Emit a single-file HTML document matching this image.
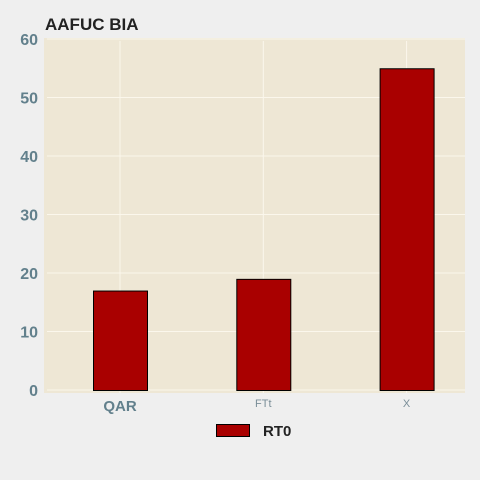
<!DOCTYPE html>
<html><head><meta charset="utf-8"><style>
html,body{margin:0;padding:0;background:#efefef;}
svg{display:block;font-family:"Liberation Sans",sans-serif;}
</style></head><body>
<svg id="chart" width="480" height="480">
<rect x="0" y="0" width="480" height="480" fill="#efefef"/>
<text x="45" y="30" font-size="17" font-weight="bold" fill="#222">AAFUC BIA</text>
<rect x="44" y="38" width="421" height="355" fill="#eee7d5"/>
<g id="grid"></g><g id="bars"></g><g id="yticks"></g><g id="xticks"></g>
<g>
<rect x="216.5" y="424.5" width="33" height="12" fill="#a90000" stroke="#000" stroke-width="1"/>
<text x="263" y="436" font-size="15" font-weight="bold" fill="#222">RT0</text>
</g>
</svg>
<script>
const categories = ["QAR","FTt","X"];
const values = [17,19,55];
const yTicks = [0,10,20,30,40,50,60];
const NS="http://www.w3.org/2000/svg";
const y0=390, yTop=39, yMax=60;
function yScale(v){return y0-(v/yMax)*(y0-yTop);}
const plotL=44, plotR=465, step=143.3, first=120;
function xScale(i){return first+i*step;}
function mk(tag,attrs,parent){const e=document.createElementNS(NS,tag);for(const k in attrs)e.setAttribute(k,attrs[k]);document.getElementById(parent).appendChild(e);return e;}
yTicks.forEach(t=>{
  const y=yScale(t);
  const g=mk("line",{x1:plotL+3,x2:plotR,y1:y,y2:y,stroke:"#fbf7ec","stroke-width":1},"grid");
  
  
  const l=mk("text",{x:38,y:y+6,"text-anchor":"end","font-size":16,"font-weight":"bold",fill:"#62808c"},"yticks");
  l.textContent=t;
  
  
});
categories.forEach((c,i)=>{
  const x=xScale(i);
  const g=mk("line",{x1:x,x2:x,y1:41,y2:393,stroke:"#fbf7ec","stroke-width":1},"grid");
  
  
});
categories.forEach((c,i)=>{
  const x=xScale(i), y=yScale(values[i]);
  const b=mk("rect",{x:x-27+0.5,y:y+0.5,width:54,height:y0-y,fill:"#a90000",stroke:"#000","stroke-width":1},"bars");
  
  
  const big=i===0;
  const l=mk("text",{x:x,y:big?411:407,"text-anchor":"middle","font-size":big?15:11,"font-weight":big?"bold":"normal",fill:big?"#62808c":"#7a8e98"},"xticks");
  l.textContent=c;
  
  
});
</script>
</body></html>
